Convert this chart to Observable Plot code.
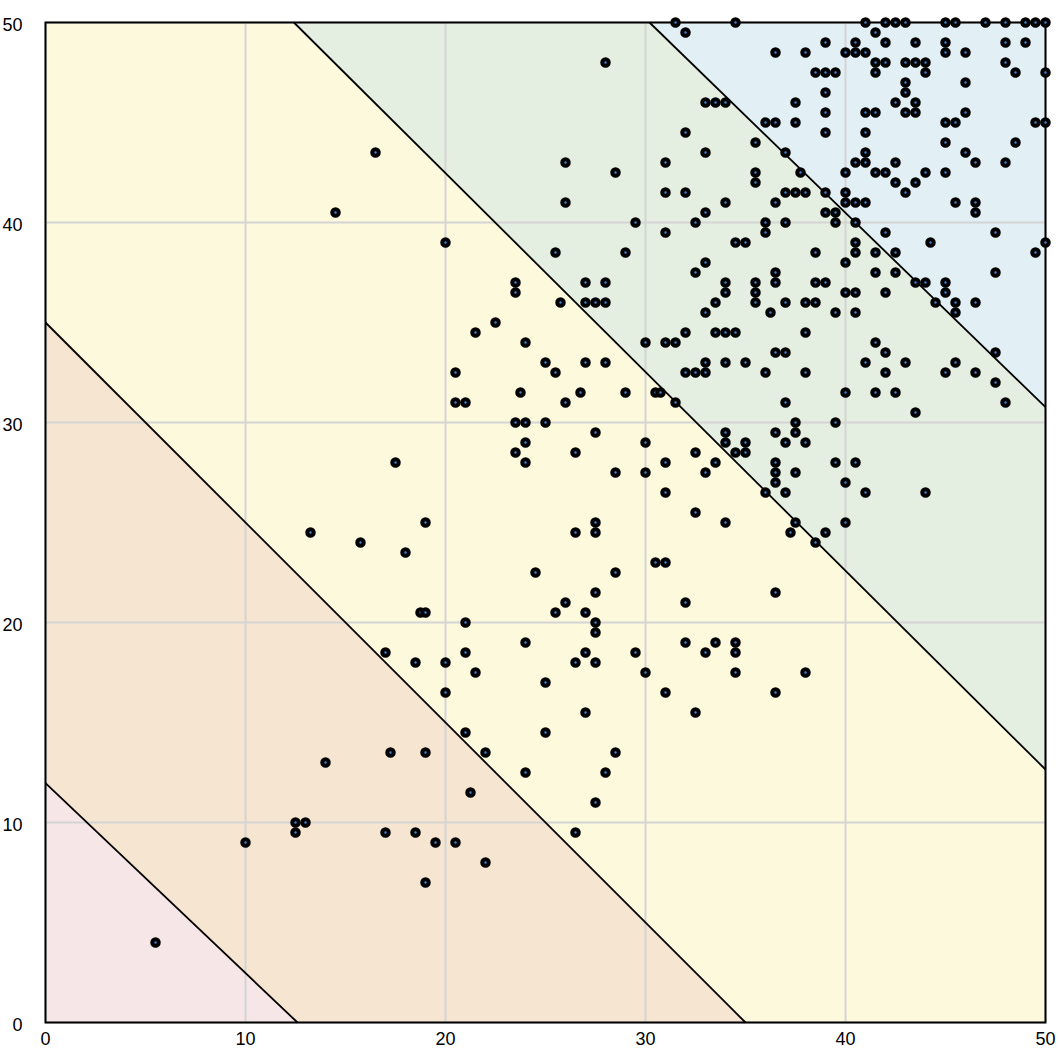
<!DOCTYPE html>
<html>
<head>
<meta charset="utf-8">
<script src="https://cdn.jsdelivr.net/npm/d3@7"></script>
<script src="https://cdn.jsdelivr.net/npm/@observablehq/plot@0.6"></script>
<style>
  html, body { margin: 0; padding: 0; background: #fff; }
  #chart svg { display: block; }
</style>
</head>
<body>
<div id="chart"></div>
<script>
// Tick labels
const xTicks = [0, 10, 20, 30, 40, 50];
const yTicks = [0, 10, 20, 30, 40, 50];

// Boundary lines (endpoints where they meet the frame)
const boundaryX1 = [0, 0, 12.42, 30.2];
const boundaryY1 = [11.97, 35, 50, 50];
const boundaryX2 = [12.6, 35, 50, 50];
const boundaryY2 = [0, 0, 12.65, 30.77];

// Region colours, from bottom-left to top-right
const regionColors = ["#f6e6e8", "#f6e5d1", "#fdf9dd", "#e5efe1", "#e2f0f6"];

// Scatter points
const pointX = [
  5.5, 10, 12.5, 12.5, 13, 14, 17, 18.5, 19, 19.5, 20.5, 22, 17.25, 19, 21.25, 22, 24, 21, 20, 20,
  18.5, 17, 18.75, 19, 21, 21, 21.5, 19, 18, 15.75, 13.25, 17.5, 14.5, 16.5, 20, 21.5, 22.5, 20.5, 20.5, 21,
  23.5, 23.5, 24, 25.5, 25, 23.75, 23.5, 24, 25, 23.5, 24, 24, 26, 26.75, 27, 28, 25.75, 25.5, 26, 26,
  28, 28.5, 29.5, 29, 27, 28, 27, 27.5, 28, 30, 31, 31.5, 30.5, 30.75, 31.5, 29, 27.5, 30, 26.5, 31,
  30, 28.5, 31, 32.5, 33, 33.5, 34, 34, 34.5, 35, 35, 32.5, 34, 27.5, 27.5, 26.5, 24.5, 28.5, 30.5, 31,
  26, 25.5, 27, 27.5, 27.5, 27.5, 27, 26.5, 27.5, 24, 25, 29.5, 30, 31, 32, 32, 33, 33.5, 34.5, 34.5,
  34.5, 36.5, 36.5, 38, 32.5, 27, 25, 28.5, 28, 27.5, 26.5,
  // green / blue area
  31.5, 32, 34.5, 36.5, 38, 33, 33.5, 34, 36, 36.5, 37.5, 37.5, 32, 33, 31, 35.5, 37, 35.5, 35.5, 37.75,
  31, 32, 34, 33, 32.5, 31, 36.5, 37, 37.5, 38, 36, 36, 37, 34.5, 35, 32.5, 33, 34, 34, 33.5,
  33, 35.5, 35.5, 35.5, 36.5, 36.5, 36.25, 37, 38, 38.5, 38.5, 39, 38.5, 38, 36.5, 37, 35, 33.5, 34, 34.5,
  32, 32, 32.5, 33, 33, 34, 36, 38, 37, 37.5, 37.5, 36.5, 37, 38, 39.5, 36.5, 36.5, 36.5, 37.5, 36,
  37, 37.5, 37.25, 39, 38.5, 40, 39.5, 40.5, 40, 41, 40, 39.5, 40, 40.5, 40.5, 40, 40.5, 40.5, 39.5, 39.5,
  39, 40.5, 39, 40, 40, 40.5, 40, 41,
  39, 40, 40.5, 40.5, 38.5, 39, 39.5, 39, 39, 39, 41, 41.5, 42, 42.5, 43, 42, 41, 41.5, 42, 41.5,
  43, 43.5, 44, 43.5, 43, 43, 43.5, 42.5, 43, 43.5, 44, 45, 45.5, 45, 45, 46, 46, 46, 45, 45.5,
  45, 46, 46.5, 45, 41, 41.5, 41, 41, 40.5, 41, 41.5, 42, 42.5, 42.5, 43, 43.5, 44, 45.5, 46.5, 46.5,
  47, 48, 49, 49.5, 50, 48, 49, 48, 48.5, 50, 49.5, 50, 48.5, 48, 47.5, 50, 49.5, 47.5, 45, 45,
  45.5, 45.5, 44.5, 46.5, 43.5, 44, 42.5, 42.5, 41.5, 42, 42, 41.5, 44.25, 41, 41.5, 42, 42, 41.5, 42.5, 43,
  43.5, 44, 45, 45.5, 46.5, 47.5, 47.5, 48
];
const pointY = [
  4, 9, 9.5, 10, 10, 13, 9.5, 9.5, 7, 9, 9, 8, 13.5, 13.5, 11.5, 13.5, 12.5, 14.5, 16.5, 18,
  18, 18.5, 20.5, 20.5, 20, 18.5, 17.5, 25, 23.5, 24, 24.5, 28, 40.5, 43.5, 39, 34.5, 35, 32.5, 31, 31,
  37, 36.5, 34, 32.5, 33, 31.5, 30, 30, 30, 28.5, 29, 28, 31, 31.5, 33, 33, 36, 38.5, 43, 41,
  48, 42.5, 40, 38.5, 37, 37, 36, 36, 36, 34, 34, 34, 31.5, 31.5, 31, 31.5, 29.5, 29, 28.5, 28,
  27.5, 27.5, 26.5, 28.5, 27.5, 28, 29.5, 29, 28.5, 29, 28.5, 25.5, 25, 25, 24.5, 24.5, 22.5, 22.5, 23, 23,
  21, 20.5, 20.5, 21.5, 20, 19.5, 18.5, 18, 18, 19, 17, 18.5, 17.5, 16.5, 21, 19, 18.5, 19, 19, 18.5,
  17.5, 21.5, 16.5, 17.5, 15.5, 15.5, 14.5, 13.5, 12.5, 11, 9.5,
  // green / blue area
  50, 49.5, 50, 48.5, 48.5, 46, 46, 46, 45, 45, 46, 45, 44.5, 43.5, 43, 44, 43.5, 42.5, 42, 42.5,
  41.5, 41.5, 41, 40.5, 40, 39.5, 41, 41.5, 41.5, 41.5, 40, 39.5, 40, 39, 39, 37.5, 38, 37, 36.5, 36,
  35.5, 37, 36.5, 36, 37.5, 37, 35.5, 36, 36, 36, 37, 37, 38.5, 34.5, 33.5, 33.5, 33, 34.5, 34.5, 34.5,
  34.5, 32.5, 32.5, 32.5, 33, 33, 32.5, 32.5, 31, 30, 29.5, 29.5, 29, 29, 30, 28, 27.5, 27, 27.5, 26.5,
  26.5, 25, 24.5, 24.5, 24, 25, 28, 28, 27, 26.5, 31.5, 35.5, 36.5, 36.5, 35.5, 38, 38.5, 39, 40.5, 40,
  40.5, 40, 41.5, 41.5, 41, 41, 42.5, 41,
  49, 48.5, 48.5, 49, 47.5, 47.5, 47.5, 46.5, 45.5, 44.5, 50, 49.5, 50, 50, 50, 49, 48.5, 48, 48, 47.5,
  48, 48, 48, 49, 47, 46.5, 46, 46, 45.5, 45.5, 47.5, 50, 50, 49, 48.5, 48.5, 47, 45.5, 45, 45,
  44, 43.5, 43, 42.5, 45.5, 45.5, 44.5, 43.5, 43, 43, 42.5, 42.5, 43, 42, 41.5, 42, 42.5, 41, 41, 40.5,
  50, 50, 50, 50, 50, 49, 49, 48, 47.5, 47.5, 45, 45, 44, 43, 39.5, 39, 38.5, 37.5, 37, 36.5,
  36, 35.5, 36, 36, 37, 37, 37.5, 38.5, 37.5, 36.5, 39.5, 38.5, 39, 33, 34, 33.5, 32.5, 31.5, 31.5, 33,
  30.5, 26.5, 32.5, 33, 32.5, 33.5, 32, 31
];

const points = pointX.map((x, i) => ({x, y: pointY[i]}));

const boundaries = boundaryX1.map((x1, i) => ({
  x1, y1: boundaryY1[i], x2: boundaryX2[i], y2: boundaryY2[i]
}));
// y of each boundary at the left (x=0) and right (x=50) frame edges
const yAt = (b, x) => b.y1 + (b.y2 - b.y1) * (x - b.x1) / (b.x2 - b.x1);
const regionMarks = regionColors.map((color, i) => {
  const lo = i === 0 ? null : boundaries[i - 1];
  const hi = i === boundaries.length ? null : boundaries[i];
  const data = [0, 50].map(x => ({
    x,
    y1: lo ? yAt(lo, x) : -200,
    y2: hi ? yAt(hi, x) : 250
  }));
  return Plot.areaY(data, {x: "x", y1: "y1", y2: "y2", fill: color, clip: true});
});

const chart = Plot.plot({
  width: 1058,
  height: 1054,
  marginLeft: 45,
  marginRight: 13,
  marginTop: 22,
  marginBottom: 32,
  style: {fontFamily: "'Liberation Sans', Arial, Helvetica, sans-serif", background: "#fff"},
  x: {domain: [0, 50]},
  y: {domain: [0, 50]},
  marks: [
    ...regionMarks,
    Plot.gridX(xTicks, {stroke: "#d4d4d4", strokeOpacity: 1, strokeWidth: 2}),
    Plot.gridY(yTicks, {stroke: "#d4d4d4", strokeOpacity: 1, strokeWidth: 2}),
    Plot.link(boundaries, {x1: "x1", y1: "y1", x2: "x2", y2: "y2", stroke: "black", strokeWidth: 1.8}),
    Plot.frame({stroke: "black", strokeWidth: 2}),
    Plot.axisX(xTicks, {tickSize: 0, tickPadding: 10, fontSize: 18, fill: "black", label: null}),
    Plot.axisY(yTicks, {tickSize: 0, tickPadding: 23, fontSize: 18, fill: "black", dy: 3, label: null}),
    Plot.dot(points, {x: "x", y: "y", r: 3.25, fill: "#3d7fd0", stroke: "black", strokeWidth: 4})
  ]
});
document.getElementById("chart").appendChild(chart);
</script>
</body>
</html>
